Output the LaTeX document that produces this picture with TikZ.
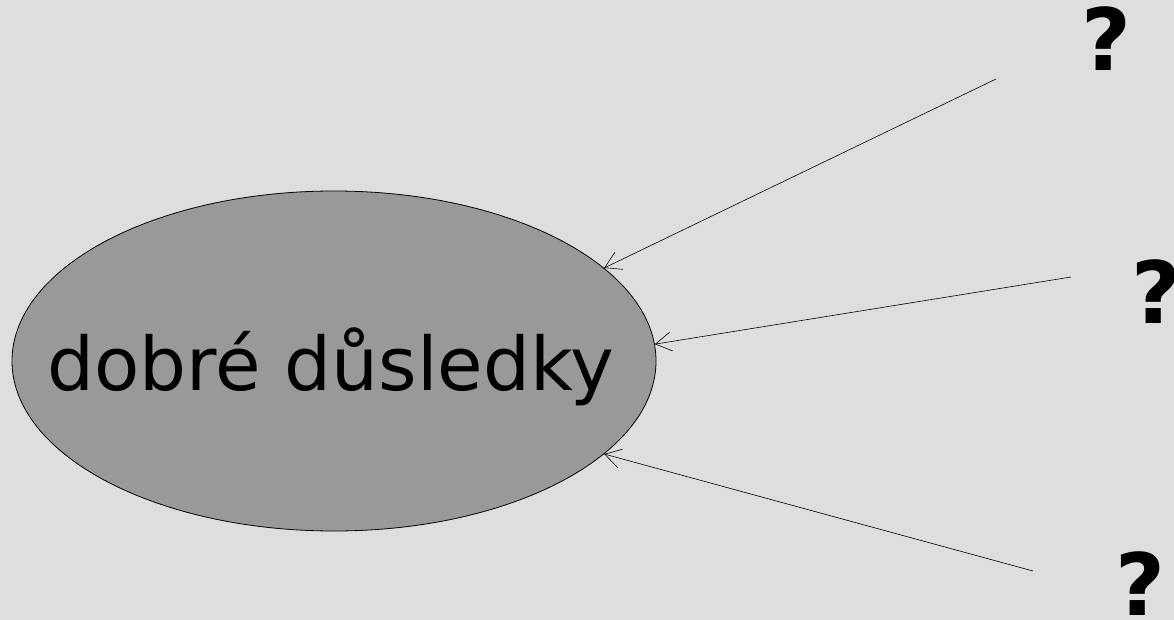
\documentclass[tikz,border=0pt]{standalone}
\usepackage{fontspec}
\setmainfont{DejaVu Sans}
\usetikzlibrary{shapes,arrows.meta}
\definecolor{bggray}{HTML}{DEDEDE}
\definecolor{ellgray}{HTML}{999999}

\begin{document}
\begin{tikzpicture}
  [
    x=1pt, y=-1pt,
    blob/.style =
      {ellipse, draw, fill=ellgray, line width=0.8pt,
       minimum width=644pt, minimum height=340pt, inner sep=0pt},
    ask/.style =
      {font=\fontsize{86}{90}\selectfont\bfseries, inner sep=0pt},
    arr/.style =
      {-{Straight Barb[length=16pt, width=19pt]}, line width=0.6pt}
  ]
  \fill [bggray] (0,0) rectangle (1174,620);
  \useasboundingbox (0,0) rectangle (1174,620);

  \node [blob] at (334, 361) (effect) {};
  \node [font=\fontsize{74}{80}\selectfont, inner sep=0pt]
    at ([xshift=-3pt, yshift=-6pt]effect.center) (name) {dobré důsledky};

  \node [ask] at (1106, 39)  (q1) {?};
  \node [ask] at (1156, 292) (q2) {?};
  \node [ask] at (1140, 584) (q3) {?};

  \coordinate (t1) at (996, 79);
  \coordinate (t2) at (1071, 277);
  \coordinate (t3) at (1033, 571);

  \draw [arr] (t1) -- (effect.19);
  \draw [arr] (t2) -- (effect.3);
  \draw [arr] (t3) -- (effect.-19);

\end{tikzpicture}
\end{document}
